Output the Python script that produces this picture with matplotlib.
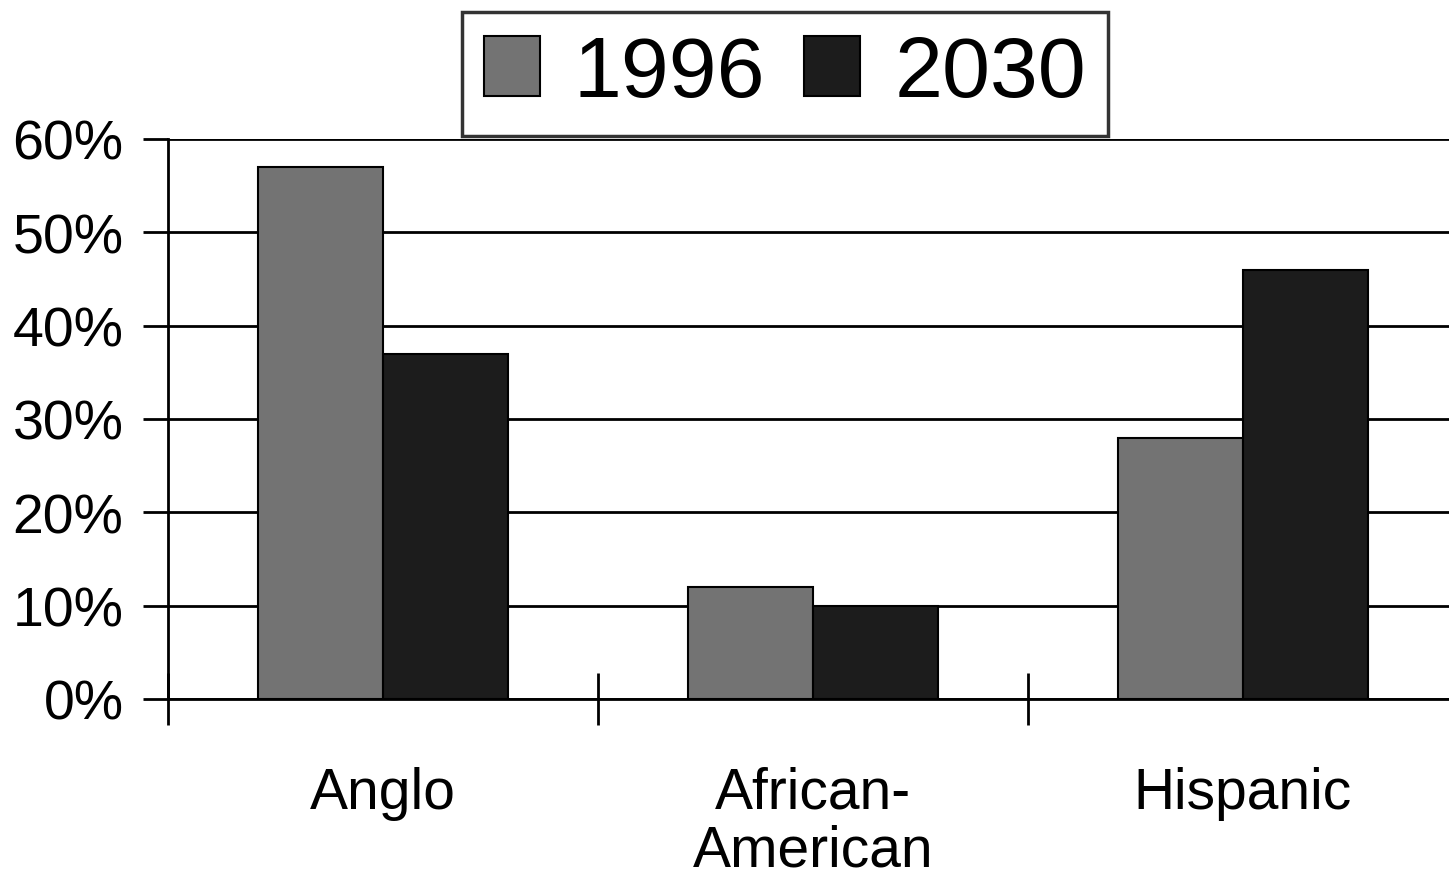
import numpy as np
import matplotlib.pyplot as plt
from matplotlib.ticker import PercentFormatter

plt.rcParams['font.family'] = ['Liberation Sans', 'DejaVu Sans']

categories = ['Anglo', 'African-\nAmerican', 'Hispanic']
years = ['1996', '2030']
share_1996 = [57, 12, 28]
share_2030 = [37, 10, 46]
yticks = [0, 10, 20, 30, 40, 50, 60]

fig = plt.figure(figsize=(14.49, 8.78), dpi=100)
ax = fig.add_axes([168 / 1449, 1 - 700 / 878, 1290 / 1449, 560 / 878])

x = np.arange(len(categories))
w = 0.29
ax.bar(x - w / 2, share_1996, w, color='#737373', edgecolor='black', linewidth=1.5,
       label=years[0], zorder=3)
ax.bar(x + w / 2, share_2030, w, color='#1c1c1c', edgecolor='black', linewidth=1.5,
       label=years[1], zorder=3)

ax.set_xlim(-0.5, 2.5)
ax.set_ylim(0, 60)
ax.set_yticks(yticks)
ax.yaxis.set_major_formatter(PercentFormatter(decimals=0))
ax.yaxis.grid(True, color='black', linewidth=2, zorder=0)
ax.set_axisbelow(True)

ax.set_xticks(x)
ax.set_xticklabels(categories, fontsize=41, linespacing=1.1)
ax.set_xticks([-0.5, 0.5, 1.5], minor=True)
ax.tick_params(axis='x', which='major', length=0, pad=48)
ax.tick_params(axis='x', which='minor', direction='inout', length=38, width=2)
ax.tick_params(axis='y', direction='out', length=18, width=2, labelsize=40, pad=14)

for s in ['top', 'right']:
    ax.spines[s].set_visible(False)
ax.spines['left'].set_linewidth(2)
ax.spines['bottom'].set_linewidth(2)

leg = fig.legend(loc='center', bbox_to_anchor=(785 / 1449, 1 - 75 / 878), ncol=2,
                 fontsize=62, frameon=True, fancybox=False, shadow=False,
                 handlelength=0.65, handleheight=0.7, handletextpad=0.4,
                 columnspacing=0.45, borderpad=0.25, borderaxespad=0)
leg.get_frame().set_edgecolor('black')
leg.get_frame().set_linewidth(2.5)

fig.savefig('out.png', dpi=100)
